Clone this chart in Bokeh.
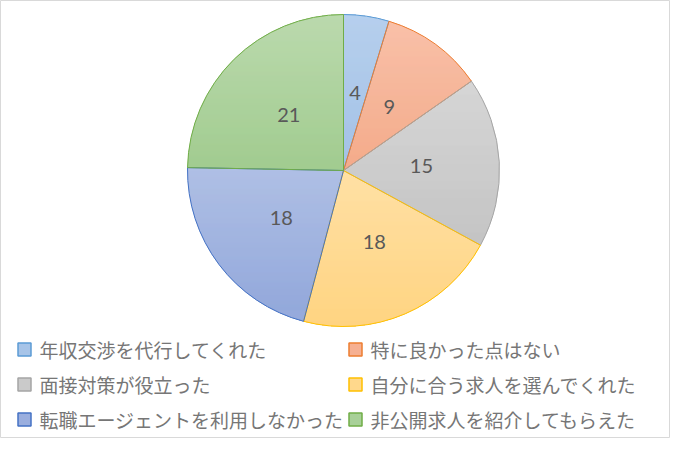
from math import pi, sin, cos

from bokeh.core.properties import value
from bokeh.embed import file_html
from bokeh.models import ColumnDataSource, Range1d
from bokeh.plotting import figure
from bokeh.resources import INLINE

# data
categories = ["年収交渉を代行してくれた", "特に良かった点はない", "面接対策が役立った",
              "自分に合う求人を選んでくれた", "転職エージェントを利用しなかった", "非公開求人を紹介してもらえた"]
counts = [4, 9, 15, 18, 18, 21]

# colours: gradient top / bottom and edge
tops = ["#B1CCEC", "#F8BCA3", "#D3D3D3", "#FFDE9F", "#AABBE3", "#B6D7A8"]
bottoms = ["#9DBDE4", "#F3A582", "#C0C0C0", "#FFD179", "#8AA1D8", "#9BC888"]
edges = ["#5B9BD5", "#ED7D31", "#A5A5A5", "#FFC000", "#4472C4", "#70AD47"]

W, H = 670, 438
cx, cy, r = 343, 268, 156


def mix(c1, c2, t):
    a = [int(c1[i:i + 2], 16) for i in (1, 3, 5)]
    b = [int(c2[i:i + 2], 16) for i in (1, 3, 5)]
    return "#%02x%02x%02x" % tuple(round(a[k] + (b[k] - a[k]) * t) for k in range(3))


p = figure(width=W, height=H, output_backend="svg", toolbar_location=None,
           x_range=Range1d(0, W), y_range=Range1d(0, H), min_border=0,
           outline_line_color="#D9D9D9", outline_line_width=1)
p.axis.visible = False
p.grid.visible = False

total = sum(counts)
starts, ends, lx, ly = [], [], [], []
sx0, sx1, sy0, scol = [], [], [], []
acc = 0
for i, c in enumerate(counts):
    a0 = pi / 2 - 2 * pi * acc / total
    acc += c
    a1 = pi / 2 - 2 * pi * acc / total
    starts.append(a0)
    ends.append(a1)
    mid = (a0 + a1) / 2
    lx.append(cx + 0.5 * r * cos(mid))
    ly.append(cy + 0.5 * r * sin(mid))

    # gradient fill: horizontal strips clipped to the slice
    n = 120
    pts = [(cx, cy)] + [(cx + r * cos(a0 + (a1 - a0) * k / n), cy + r * sin(a0 + (a1 - a0) * k / n))
                        for k in range(n + 1)]
    ys = [q[1] for q in pts]
    ymin, ymax = min(ys), max(ys)
    yy = int(ymin)
    while yy <= ymax:
        yc = yy + 0.5
        xs = []
        for j in range(len(pts)):
            x1, y1 = pts[j]
            x2, y2 = pts[(j + 1) % len(pts)]
            if y1 != y2 and min(y1, y2) <= yc < max(y1, y2):
                xs.append(x1 + (yc - y1) * (x2 - x1) / (y2 - y1))
        if len(xs) >= 2:
            sx0.append(min(xs))
            sx1.append(max(xs))
            sy0.append(yc)
            scol.append(mix(tops[i], bottoms[i], (ymax - yc) / (ymax - ymin)))
        yy += 1

p.segment(x0=sx0, y0=sy0, x1=sx1, y1=sy0, line_color=scol, line_width=1.4)

src = ColumnDataSource(dict(start=starts, end=ends, edge=edges,
                            lx=lx, ly=ly, txt=[str(c) for c in counts]))
p.wedge(x=cx, y=cy, radius=r, start_angle="start", end_angle="end", direction="clock",
        fill_color=None, line_color="edge", line_width=1, source=src)
p.text(x="lx", y="ly", text="txt", source=src, text_align="center", text_baseline="middle",
       text_font=value("Lato"), text_font_size="20px", text_color="#595959")

# legend, two columns
lgx = [24 if i % 2 == 0 else 355 for i in range(len(categories))]
lgy = [89 - 35 * (i // 2) for i in range(len(categories))]
leg = ColumnDataSource(dict(sx=lgx, sy=lgy, tx=[x + 15 for x in lgx], cat=categories,
                            fill=[mix(t, b, 0.5) for t, b in zip(tops, bottoms)], edge=edges))
p.rect(x="sx", y="sy", width=13, height=13, fill_color="fill", line_color="edge",
       line_width=1.5, source=leg)
p.text(x="tx", y="sy", text="cat", source=leg, text_baseline="middle",
       text_font=value("Noto Sans CJK JP"), text_font_size="19px", text_color="#767676")

open("out.html", "w").write(file_html(p, INLINE))
